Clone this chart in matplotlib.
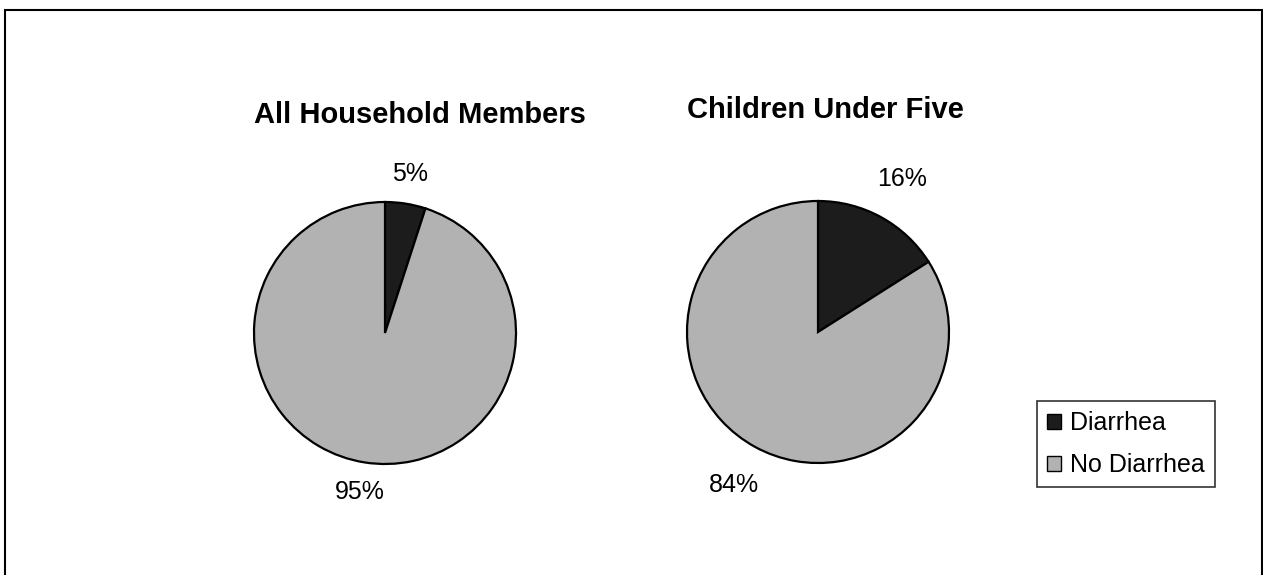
import matplotlib.pyplot as plt
from matplotlib.patches import Rectangle, Patch

plt.rcParams['font.family'] = ['Liberation Sans', 'DejaVu Sans']

categories = ['Diarrhea', 'No Diarrhea']
titles = ['All Household Members', 'Children Under Five']
household = [5, 95]
children = [16, 84]

colors = ['#1c1c1c', '#b2b2b2']
W, H = 1263, 575

fig = plt.figure(figsize=(W / 100, H / 100), dpi=100)

# outer chart border (cropped at right/bottom like the original)
fig.patches.append(Rectangle((5 / W, -0.05), (1262 - 5) / W, 1 - 10 / H + 0.05,
                             transform=fig.transFigure, fill=False,
                             edgecolor='black', linewidth=1.5))

r = 131
centers = [(385, 333), (818, 332)]
title_pos = [(420, 123), (825, 118)]
pct_dist = [1.23, 1.33]
for data, title, (cx, cy), (tx, ty), pd in zip([household, children], titles, centers,
                                               title_pos, pct_dist):
    ax = fig.add_axes([(cx - r) / W, (H - cy - r) / H, 2 * r / W, 2 * r / H])
    ax.pie(data, colors=colors, startangle=90, counterclock=False,
           autopct='%1.0f%%', pctdistance=pd,
           wedgeprops=dict(edgecolor='black', linewidth=1.6),
           textprops=dict(fontsize=18, color='black'))
    ax.set_xlim(-1, 1)
    ax.set_ylim(-1, 1)
    ax.set_aspect('equal')
    ax.axis('off')
    fig.text(tx / W, 1 - ty / H, title, ha='center', va='baseline',
             fontsize=21, fontweight='bold')

handles = [Patch(facecolor=c, edgecolor='black', linewidth=1.0) for c in colors]
leg = fig.legend(handles, categories, loc='upper left',
                 bbox_to_anchor=(1037 / W, 1 - 401 / H), fontsize=18,
                 handlelength=0.56, handleheight=0.56, handletextpad=0.36,
                 frameon=True, fancybox=False, edgecolor='black',
                 borderpad=0.4, labelspacing=0.72, borderaxespad=0)
leg.get_frame().set_linewidth(1.2)

fig.savefig('out.png', dpi=100)
